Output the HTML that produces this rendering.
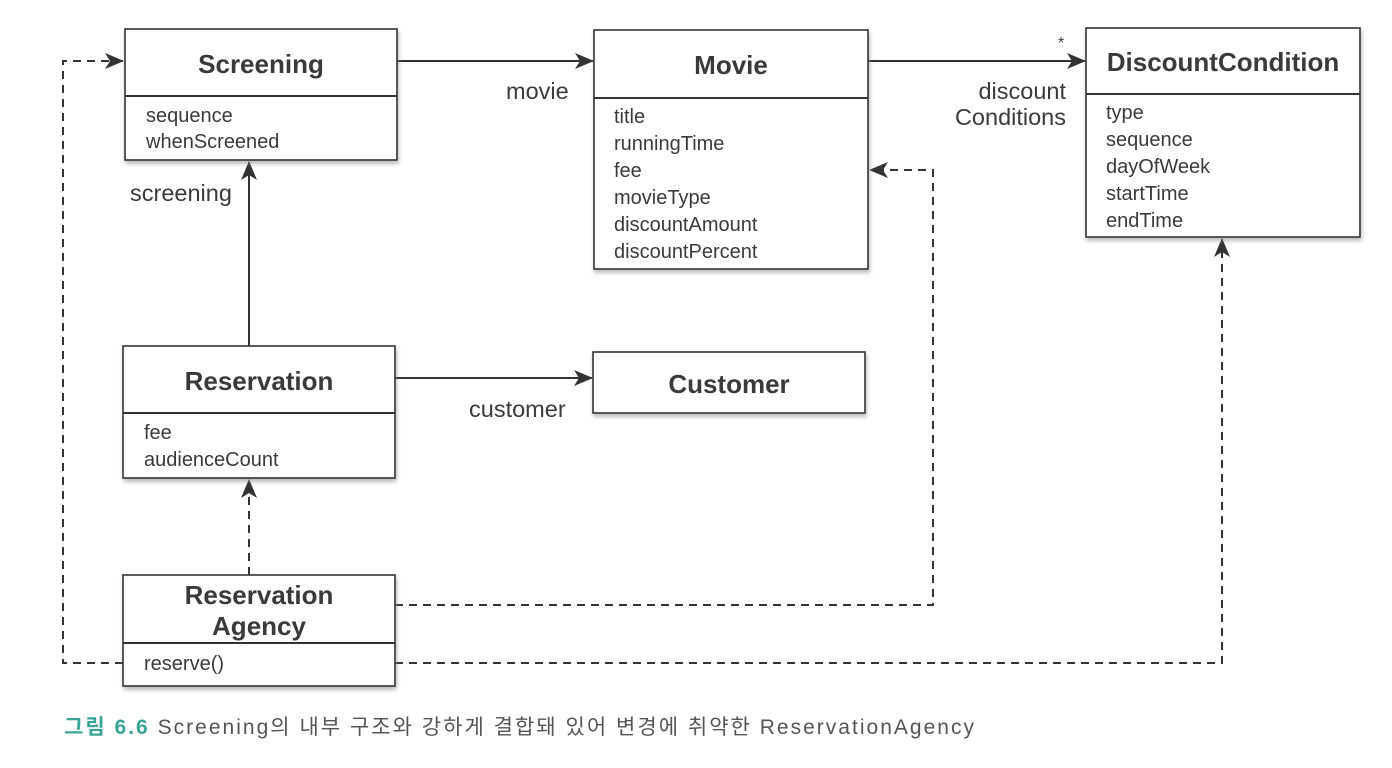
<!DOCTYPE html>
<html><head><meta charset="utf-8"><style>
html,body{margin:0;padding:0;background:#fff;}
svg{display:block}
text{font-family:"Liberation Sans","Noto Sans CJK KR",sans-serif;fill:#3a3a3a}
.t{font-size:26px;font-weight:bold;text-anchor:middle}
.a{font-size:20px}
.l{font-size:23.5px}
.box{fill:#fff;stroke:#333;stroke-width:1.6}
.ln{stroke:#333;stroke-width:2;fill:none}
.d{stroke:#333;stroke-width:2;fill:none;stroke-dasharray:8,6}
</style></head><body>
<svg width="1392" height="768" viewBox="0 0 1392 768">
<defs>
<marker id="ar" markerWidth="19" markerHeight="16" refX="18" refY="8" orient="auto" markerUnits="userSpaceOnUse">
<path d="M0,0 L19,8 L0,16 L5,8 Z" fill="#333"/></marker>
<filter id="sh"><feDropShadow dx="1" dy="3" stdDeviation="2" flood-color="#888" flood-opacity="0.6"/></filter>
</defs>
<line class="ln" x1="397" y1="61" x2="593" y2="61" marker-end="url(#ar)"/>
<line class="ln" x1="868" y1="61" x2="1085" y2="61" marker-end="url(#ar)"/>
<line class="ln" x1="249" y1="346" x2="249" y2="162" marker-end="url(#ar)"/>
<line class="ln" x1="395" y1="378" x2="592" y2="378" marker-end="url(#ar)"/>
<line class="d" x1="249" y1="575" x2="249" y2="480" marker-end="url(#ar)"/>
<polyline class="d" points="395,605 933,605 933,170 870,170" marker-end="url(#ar)"/>
<polyline class="d" points="395,663 1222,663 1222,239" marker-end="url(#ar)"/>
<polyline class="d" points="123,663 63,663 63,61 123,61" marker-end="url(#ar)"/>
<g filter="url(#sh)">
<rect class="box" x="125" y="29" width="272" height="131"/>
<rect class="box" x="594" y="30" width="274" height="239"/>
<rect class="box" x="1086" y="28" width="274" height="209"/>
<rect class="box" x="123" y="346" width="272" height="132"/>
<rect class="box" x="593" y="352" width="272" height="61"/>
<rect class="box" x="123" y="575" width="272" height="111"/>
</g>
<line class="ln" x1="125" y1="96" x2="397" y2="96"/>
<line class="ln" x1="594" y1="98" x2="868" y2="98"/>
<line class="ln" x1="1086" y1="94" x2="1360" y2="94"/>
<line class="ln" x1="123" y1="413" x2="395" y2="413"/>
<line class="ln" x1="123" y1="643" x2="395" y2="643"/>
<text class="t" x="261" y="73">Screening</text>
<text class="t" x="731" y="74">Movie</text>
<text class="t" x="1223" y="71">DiscountCondition</text>
<text class="t" x="259" y="390">Reservation</text>
<text class="t" x="729" y="393">Customer</text>
<text class="t" x="259" y="604">Reservation</text>
<text class="t" x="259" y="635">Agency</text>
<text class="a" x="146" y="122">sequence</text>
<text class="a" x="146" y="148">whenScreened</text>
<text class="a" x="614" y="123">title</text>
<text class="a" x="614" y="150">runningTime</text>
<text class="a" x="614" y="177">fee</text>
<text class="a" x="614" y="204">movieType</text>
<text class="a" x="614" y="231">discountAmount</text>
<text class="a" x="614" y="258">discountPercent</text>
<text class="a" x="1106" y="119">type</text>
<text class="a" x="1106" y="146">sequence</text>
<text class="a" x="1106" y="173">dayOfWeek</text>
<text class="a" x="1106" y="200">startTime</text>
<text class="a" x="1106" y="227">endTime</text>
<text class="a" x="144" y="439">fee</text>
<text class="a" x="144" y="466">audienceCount</text>
<text class="a" x="144" y="670">reserve()</text>
<text class="l" x="506" y="99">movie</text>
<text class="l" x="130" y="201">screening</text>
<text class="l" x="469" y="417">customer</text>
<text class="l" x="1066" y="99" text-anchor="end">discount</text>
<text class="l" x="1066" y="125" text-anchor="end">Conditions</text>
<text x="1058" y="48" style="font-size:16px">*</text>
<text x="64" y="734" style="font-size:21px" textLength="910" lengthAdjust="spacing"><tspan style="fill:#3aa596;font-weight:bold">그림 6.6</tspan><tspan style="fill:#555"> Screening의 내부 구조와 강하게 결합돼 있어 변경에 취약한 ReservationAgency</tspan></text>
</svg>
</body></html>
